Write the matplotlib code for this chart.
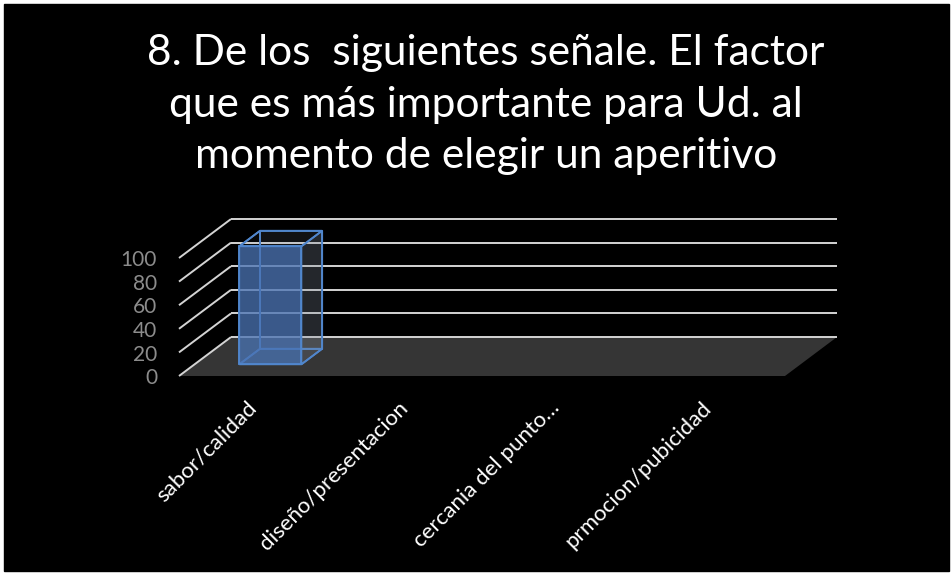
import matplotlib
matplotlib.use('Agg')
import matplotlib.pyplot as plt
import matplotlib.transforms as mtransforms
from matplotlib.patches import Polygon, Rectangle

# ── data ────────────────────────────────────────────────
categories = ['sabor/calidad', 'diseño/presentacion',
              'cercania del punto…', 'prmocion/pubicidad']
values = [100, 0, 0, 0]
y_ticks = [0, 20, 40, 60, 80, 100]
title_lines = ['8. De los  siguientes señale. El factor',
               'que es más importante para Ud. al',
               'momento de elegir un aperitivo']

# ── layout ──────────────────────────────────────────────
W, H, DPI = 953, 575, 100
DX, DY = 0.343, 33.0        # oblique depth offset (category units, value units)
BAR_W = 0.41
D0, D1 = 0.30, 0.70          # bar depth range
FONT = ['Lato', 'DejaVu Sans']

plt.rcParams['font.family'] = FONT

fig = plt.figure(figsize=(W / DPI, H / DPI), dpi=DPI, facecolor='white')
fig.patches.append(Rectangle((4 / W, 4 / H), 945 / W, 567 / H,
                             transform=fig.transFigure, color='black', zorder=-10))
ax = fig.add_axes([4 / W, 4 / H, 945 / W, 567 / H])
ax.set_xlim(-1.1551, 5.0825)
ax.set_ylim(-165.25, 315.25)
ax.axis('off')


def proj(x, y, d):
    return (x + d * DX, y + d * DY)


n = len(categories)

# floor
floor = [proj(0, 0, 0), proj(n, 0, 0), proj(n, 0, 1), proj(0, 0, 1)]
ax.add_patch(Polygon(floor, closed=True, facecolor='#353535', edgecolor='none', zorder=1))

# gridlines on back and side walls
grid_kw = dict(color='#d4d4d4', linewidth=1.4, solid_capstyle='butt', zorder=2)
for v in y_ticks:
    (bx0, by0), (bx1, by1) = proj(0, v, 1), proj(n, v, 1)
    ax.plot([bx0, bx1], [by0, by1], **grid_kw)
    (sx0, sy0), (sx1, sy1) = proj(0, v, 0), proj(0, v, 1)
    ax.plot([sx0, sx1], [sy0, sy1], **grid_kw)

# bars
edge = '#5086cc'
blue = (0.29, 0.45, 0.70)
grey = (0.52, 0.56, 0.62)
for i, val in enumerate(values):
    if val <= 0:
        continue
    x0, x1 = i + 0.5 - BAR_W / 2, i + 0.5 + BAR_W / 2
    faces = [
        ([proj(x0, 0, D1), proj(x1, 0, D1), proj(x1, val, D1), proj(x0, val, D1)], grey, 0.08),
        ([proj(x0, 0, D0), proj(x0, 0, D1), proj(x0, val, D1), proj(x0, val, D0)], grey, 0.0),
        ([proj(x0, 0, D0), proj(x1, 0, D0), proj(x1, 0, D1), proj(x0, 0, D1)], grey, 0.0),
        ([proj(x1, 0, D0), proj(x1, 0, D1), proj(x1, val, D1), proj(x1, val, D0)], grey, 0.22),
        ([proj(x0, val, D0), proj(x1, val, D0), proj(x1, val, D1), proj(x0, val, D1)], grey, 0.06),
        ([proj(x0, 0, D0), proj(x1, 0, D0), proj(x1, val, D0), proj(x0, val, D0)], blue, 0.76),
    ]
    for pts, col, alpha in faces:
        ax.add_patch(Polygon(pts, closed=True, facecolor=(*col, alpha),
                             edgecolor=edge, linewidth=1.3, zorder=3))

# value axis labels
for v in y_ticks:
    ax.text(-0.145, v - 1.8, str(v), ha='right', va='center',
            color='#8c8c8c', fontsize=15, zorder=4)

# category labels, rotated 45 degrees, ending under each category
for i, lab in enumerate(categories):
    off = mtransforms.ScaledTranslation(3 / DPI, -33 / DPI, fig.dpi_scale_trans)
    ax.text(i + 0.5, 0, lab, transform=ax.transData + off, rotation=45,
            rotation_mode='anchor', ha='right', va='baseline',
            color='white', fontsize=16, zorder=4)

# title, three centred lines
baselines = [65, 116.5, 168]
for line, yb in zip(title_lines, baselines):
    fig.text(486 / W, 1 - yb / H, line, ha='center', va='baseline',
             color='white', fontsize=30.6)

fig.savefig('out.png', dpi=DPI, facecolor='white')
